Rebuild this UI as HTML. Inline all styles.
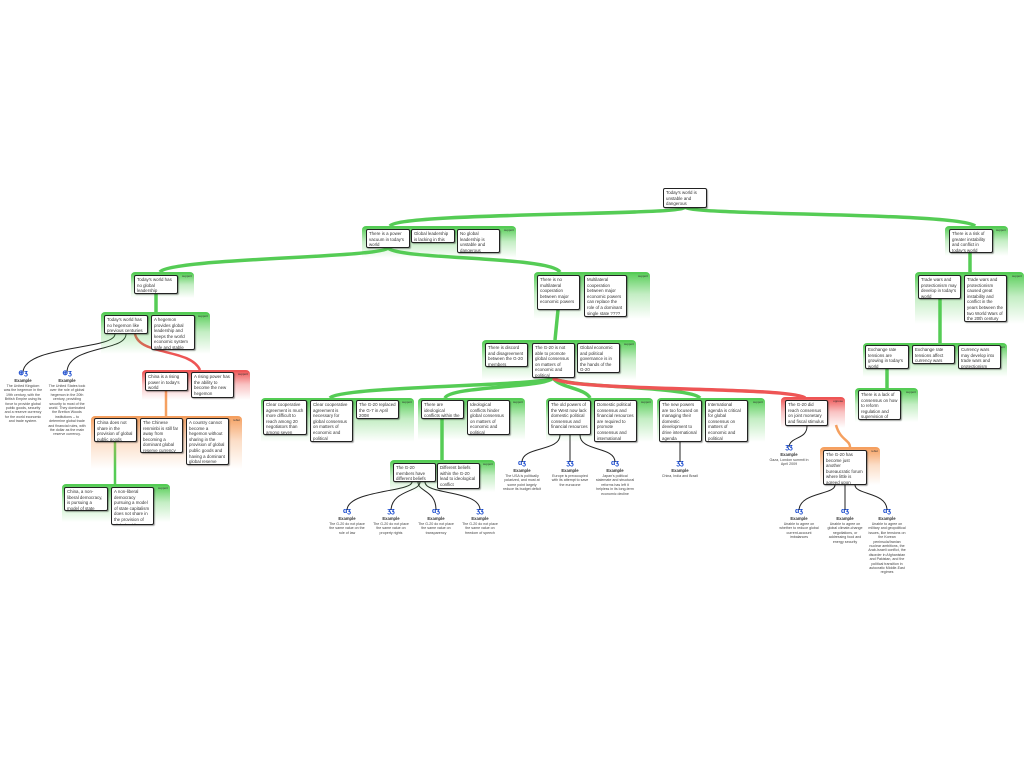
<!DOCTYPE html>
<html><head><meta charset="utf-8">
<style>
body{margin:0;width:1024px;height:768px;background:#fff;position:relative;overflow:hidden;font-family:"Liberation Sans",sans-serif;}
.p{position:absolute;border-top:2px solid;border-radius:4px 4px 0 0;}
.p::after{content:attr(data-l);position:absolute;right:2px;top:0px;font-size:3px;color:#333;}
.g{border-color:#55cc55;background:linear-gradient(rgba(85,205,85,.95),rgba(85,205,85,.35) 45%,rgba(255,255,255,0));}
.r{border-color:#ee5555;background:linear-gradient(rgba(238,85,85,.95),rgba(238,85,85,.35) 45%,rgba(255,255,255,0));}
.o{border-color:#f5a060;background:linear-gradient(rgba(245,160,96,.95),rgba(245,160,96,.35) 45%,rgba(255,255,255,0));}
.b{position:absolute;background:#fff;border:1.6px solid #222;border-radius:2px;box-shadow:1px 1px 1px rgba(0,0,0,.35);font-size:4.4px;line-height:5.6px;padding:1px 2px;box-sizing:border-box;color:#333;overflow:hidden;}
.e{position:absolute;width:40px;text-align:center;font-size:3.6px;line-height:4.4px;color:#444;}
.e i{display:block;font-style:normal;color:#1144cc;font-weight:bold;font-size:7px;line-height:8px;}
.e b{display:block;font-size:4.2px;line-height:6px;color:#333;}
svg{position:absolute;left:0;top:0;}
</style></head><body>
<svg width="1024" height="768">
<g fill="none" stroke="#55cc55" stroke-width="3.5">
<path d="M685 207 C685 216 400 212 390 226"/>
<path d="M685 207 C690 216 960 212 975 226"/>
<path d="M388 248 C380 258 170 258 160 272"/>
<path d="M388 248 C400 260 550 256 560 272"/>
<path d="M156 294 L156 312"/>
<path d="M558 310 L555 340"/>
<path d="M553 378 C545 386 340 386 330 398"/>
<path d="M553 378 C545 388 450 386 445 398"/>
<path d="M553 378 C560 388 585 388 590 398"/>
<path d="M553 378 C565 388 690 386 700 398"/>
<path d="M970 253 L970 272"/>
<path d="M940 299 L940 343"/>
<path d="M887 369 L887 388"/>
<path d="M442 419 L442 460"/>
<path d="M115 442 L115 484" stroke-width="2.5"/>
</g>
<path d="M553 378 C570 392 790 386 805 398" fill="none" stroke="#ee5555" stroke-width="3.5"/>
<path d="M135 334 C140 356 190 348 200 370" fill="none" stroke="#ee5555" stroke-width="2.5"/>
<path d="M166 391 L166 416" fill="none" stroke="#f5a060" stroke-width="2.5"/>
<path d="M836 425 C840 440 850 440 850 447" fill="none" stroke="#f5a060" stroke-width="2.5"/>
<g fill="none" stroke="#222" stroke-width="1">
<path d="M115 334 C115 350 25 345 23 372"/>
<path d="M126 334 C126 352 68 345 67 372"/>
<path d="M807 426 C807 440 790 436 789 447"/>
<path d="M412 482 C412 492 348 490 347 510"/>
<path d="M420 482 C420 492 392 490 391 510"/>
<path d="M418 482 C418 492 436 490 436 510"/>
<path d="M425 482 C425 495 480 490 480 510"/>
<path d="M560 435 C560 452 522 446 522 462"/>
<path d="M570 435 L570 462"/>
<path d="M580 435 C580 452 615 446 615 462"/>
<path d="M680 442 L680 462"/>
<path d="M835 485 C835 495 800 492 799 510"/>
<path d="M845 485 L845 510"/>
<path d="M855 485 C855 495 887 492 887 510"/>
</g>
</svg>

<div class="b" style="left:663px;top:188px;width:44px;height:20px">Today's world is unstable and dangerous</div>

<div class="p g" data-l="support" style="left:362px;top:226px;width:154px;height:30px"></div>
<div class="b" style="left:366px;top:229px;width:44px;height:19px">There is a power vacuum in today's world</div>
<div class="b" style="left:411px;top:229px;width:44px;height:14px">Global leadership is lacking in this power vacuum????</div>
<div class="b" style="left:457px;top:229px;width:43px;height:24px">No global leadership is unstable and dangerous</div>

<div class="p g" data-l="support" style="left:945px;top:226px;width:63px;height:28px"></div>
<div class="b" style="left:949px;top:229px;width:44px;height:24px">There is a risk of greater instability and conflict in today's world</div>

<div class="p g" data-l="support" style="left:131px;top:272px;width:63px;height:24px"></div>
<div class="b" style="left:134px;top:275px;width:44px;height:19px">Today's world has no global leadership</div>

<div class="p g" data-l="support" style="left:101px;top:312px;width:109px;height:40px"></div>
<div class="b" style="left:104px;top:315px;width:44px;height:19px">Today's world has no hegemon like previous centuries</div>
<div class="b" style="left:151px;top:315px;width:44px;height:35px">A hegemon provides global leadership and keeps the world economic system safe and stable</div>

<div class="p r" data-l="support" style="left:142px;top:370px;width:108px;height:28px"></div>
<div class="b" style="left:145px;top:372px;width:43px;height:19px">China is a rising power in today's world</div>
<div class="b" style="left:191px;top:372px;width:43px;height:26px">A rising power has the ability to become the new hegemon</div>

<div class="p o" data-l="rebut" style="left:91px;top:416px;width:151px;height:51px"></div>
<div class="b" style="left:94px;top:418px;width:43px;height:24px">China does not share in the provision of global public goods</div>
<div class="b" style="left:140px;top:418px;width:43px;height:35px">The Chinese renminbi is still far away from becoming a dominant global reserve currency</div>
<div class="b" style="left:186px;top:418px;width:43px;height:47px">A country cannot become a hegemon without sharing in the provision of global public goods and having a dominant global reserve currency</div>

<div class="p g" data-l="support" style="left:62px;top:484px;width:108px;height:36px"></div>
<div class="b" style="left:64px;top:487px;width:44px;height:24px">China, a non-liberal democracy, is pursuing a model of state capitalism</div>
<div class="b" style="left:111px;top:487px;width:43px;height:38px">A non-liberal democracy pursuing a model of state capitalism does not share in the provision of global public goods</div>

<div class="p g" data-l="support" style="left:534px;top:272px;width:116px;height:45px"></div>
<div class="b" style="left:537px;top:275px;width:43px;height:35px">There is no multilateral cooperation between major economic powers</div>
<div class="b" style="left:584px;top:275px;width:43px;height:42px">Multilateral cooperation between major economic powers can replace the role of a dominant single state ????</div>

<div class="p g" data-l="support" style="left:482px;top:340px;width:154px;height:38px"></div>
<div class="b" style="left:485px;top:343px;width:43px;height:24px">There is discord and disagreement between the G-20 members</div>
<div class="b" style="left:532px;top:343px;width:43px;height:35px">The G-20 is not able to promote global consensus on matters of economic and political governance</div>
<div class="b" style="left:577px;top:343px;width:43px;height:30px">Global economic and political governance is in the hands of the G-20</div>

<div class="p g" data-l="support" style="left:261px;top:398px;width:153px;height:42px"></div>
<div class="b" style="left:263px;top:400px;width:44px;height:35px">Clear cooperative agreement is much more difficult to reach among 20 negotiators than among seven</div>
<div class="b" style="left:310px;top:400px;width:43px;height:42px">Clear cooperative agreement is necessary for global consensus on matters of economic and political governance</div>
<div class="b" style="left:356px;top:400px;width:43px;height:19px">The G-20 replaced the G-7 in April 2008</div>

<div class="p g" data-l="support" style="left:418px;top:398px;width:107px;height:40px"></div>
<div class="b" style="left:421px;top:400px;width:43px;height:19px">There are ideological conflicts within the G-20</div>
<div class="b" style="left:467px;top:400px;width:43px;height:35px">Ideological conflicts hinder global consensus on matters of economic and political governance</div>

<div class="p g" data-l="support" style="left:546px;top:398px;width:107px;height:42px"></div>
<div class="b" style="left:548px;top:400px;width:43px;height:35px">The old powers of the West now lack domestic political consensus and financial resources</div>
<div class="b" style="left:594px;top:400px;width:43px;height:42px">Domestic political consensus and financial resources are required to promote consensus and international agenda</div>

<div class="p g" data-l="support" style="left:657px;top:398px;width:108px;height:42px"></div>
<div class="b" style="left:659px;top:400px;width:43px;height:42px">The new powers are too focused on managing their domestic development to drive international agenda</div>
<div class="b" style="left:705px;top:400px;width:43px;height:42px">International agenda is critical for global consensus on matters of economic and political governance</div>

<div class="p r" data-l="oppose" style="left:781px;top:397px;width:64px;height:29px"></div>
<div class="b" style="left:785px;top:400px;width:43px;height:26px">The G-20 did reach consensus on joint monetary and fiscal stimulus</div>

<div class="p o" data-l="rebut" style="left:820px;top:447px;width:60px;height:36px"></div>
<div class="b" style="left:823px;top:450px;width:44px;height:35px">The G-20 has become just another bureaucratic forum where little is agreed upon</div>

<div class="p g" data-l="support" style="left:915px;top:272px;width:109px;height:50px"></div>
<div class="b" style="left:918px;top:275px;width:43px;height:24px">Trade wars and protectionism may develop in today's world</div>
<div class="b" style="left:964px;top:275px;width:43px;height:47px">Trade wars and protectionism caused great instability and conflict in the years between the two World Wars of the 20th century</div>

<div class="p g" data-l="support" style="left:863px;top:343px;width:144px;height:32px"></div>
<div class="b" style="left:865px;top:345px;width:44px;height:24px">Exchange rate tensions are growing in today's world</div>
<div class="b" style="left:912px;top:345px;width:43px;height:19px">Exchange rate tensions affect currency wars</div>
<div class="b" style="left:958px;top:345px;width:43px;height:24px">Currency wars may develop into trade wars and protectionism</div>

<div class="p g" data-l="support" style="left:855px;top:388px;width:63px;height:32px"></div>
<div class="b" style="left:858px;top:390px;width:43px;height:30px">There is a lack of consensus on how to reform regulation and supervision of financial institutions</div>

<div class="p g" data-l="support" style="left:390px;top:460px;width:105px;height:30px"></div>
<div class="b" style="left:393px;top:463px;width:43px;height:19px">The G-20 members have different beliefs</div>
<div class="b" style="left:437px;top:463px;width:43px;height:26px">Different beliefs within the G-20 lead to ideological conflict</div>

<div class="e" style="left:3px;top:370px"><i>⊕ʒ</i><b>Example</b>The United Kingdom was the hegemon in the 19th century, with the British Empire using its force to provide global public goods, security and a reserve currency for the world economic and trade system.</div>
<div class="e" style="left:47px;top:370px"><i>⊕ʒ</i><b>Example</b>The United States took over the role of global hegemon in the 20th century, providing security to most of the world. They dominated the Bretton Woods institutions – to determine global trade and financial rules, with the dollar as the main reserve currency.</div>

<div class="e" style="left:327px;top:508px"><i>ɑʒ</i><b>Example</b>The G-20 do not place the same value on the rule of law</div>
<div class="e" style="left:371px;top:508px"><i>ʒʒ</i><b>Example</b>The G-20 do not place the same value on property rights</div>
<div class="e" style="left:416px;top:508px"><i>ɑʒ</i><b>Example</b>The G-20 do not place the same value on transparency</div>
<div class="e" style="left:460px;top:508px"><i>ʒʒ</i><b>Example</b>The G-20 do not place the same value on freedom of speech</div>

<div class="e" style="left:502px;top:460px"><i>ɑʒ</i><b>Example</b>The USA is politically polarized, and must at some point largely reduce its budget deficit</div>
<div class="e" style="left:550px;top:460px"><i>ʒʒ</i><b>Example</b>Europe is preoccupied with its attempt to save the eurozone</div>
<div class="e" style="left:595px;top:460px"><i>ɑʒ</i><b>Example</b>Japan's political stalemate and structural reforms has left it helpless in its long-term economic decline</div>
<div class="e" style="left:660px;top:460px"><i>ʒʒ</i><b>Example</b>China, India and Brazil</div>

<div class="e" style="left:769px;top:444px"><i>ʒʒ</i><b>Example</b>Gaza, London summit in April 2009</div>
<div class="e" style="left:779px;top:508px"><i>ɑʒ</i><b>Example</b>Unable to agree on whether to reduce global current-account imbalances</div>
<div class="e" style="left:825px;top:508px"><i>ɑʒ</i><b>Example</b>Unable to agree on global climate-change negotiations, or addressing food and energy security</div>
<div class="e" style="left:867px;top:508px"><i>ɑʒ</i><b>Example</b>Unable to agree on military and geopolitical issues, like tensions on the Korean peninsula/Iranian nuclear ambitions, the Arab-Israeli conflict, the disorder in Afghanistan and Pakistan, and the political transition in autocratic Middle-East regimes</div>
</body></html>
